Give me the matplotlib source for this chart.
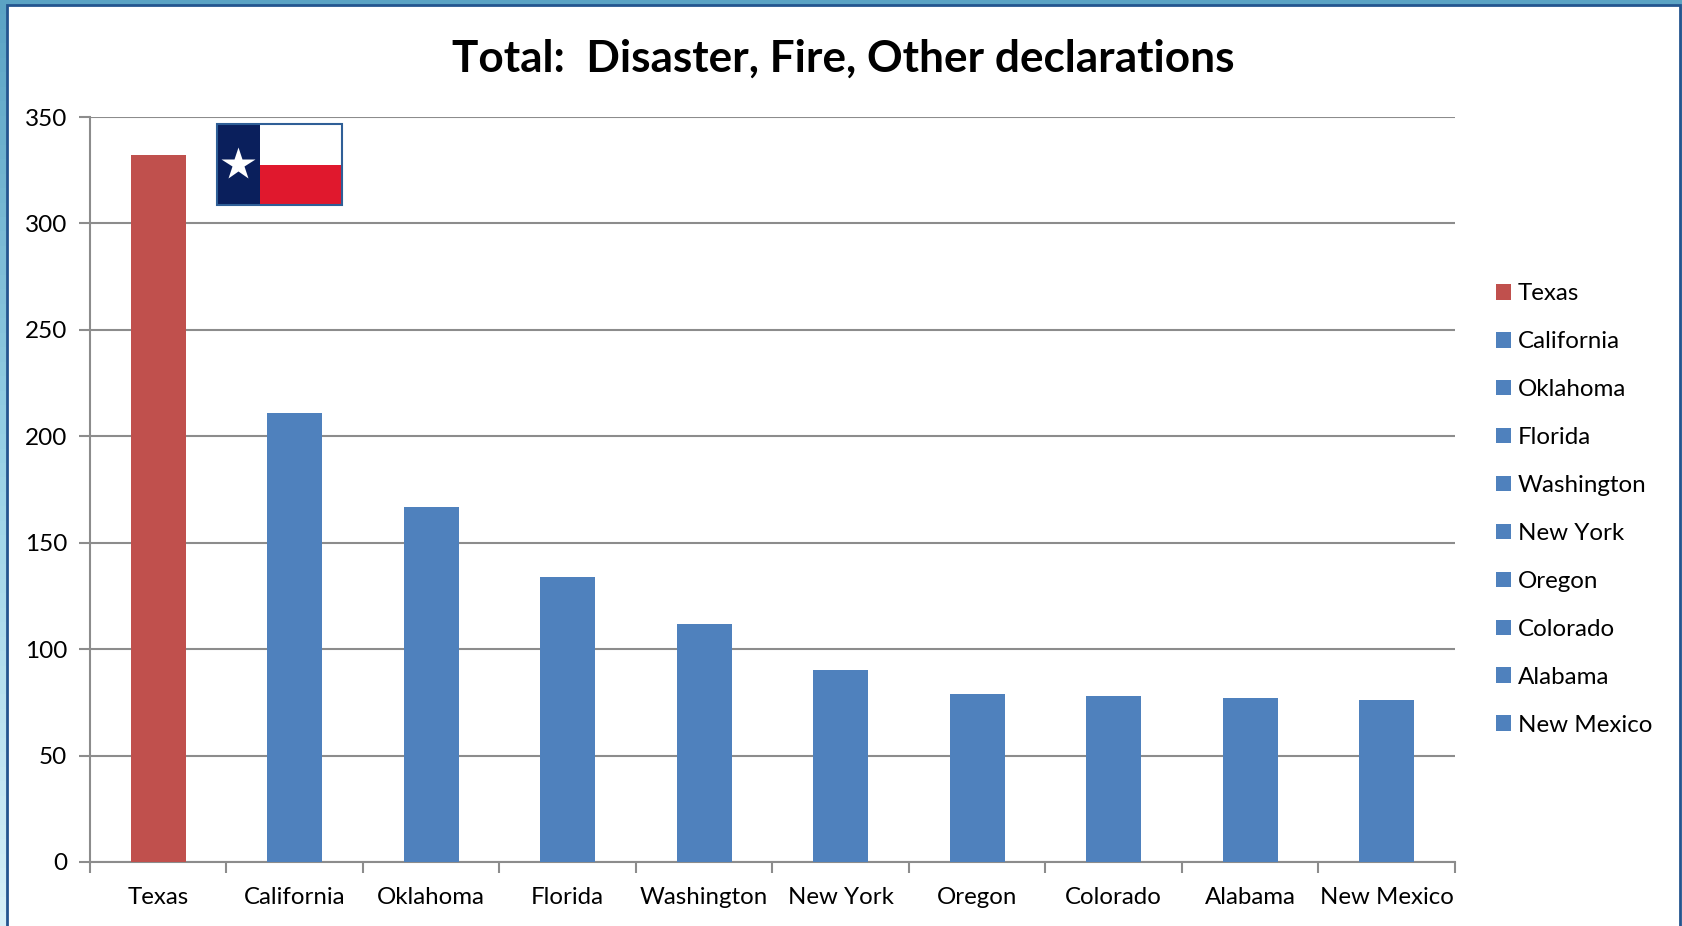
import matplotlib
matplotlib.use('Agg')
import matplotlib.pyplot as plt
from matplotlib.patches import Rectangle
import numpy as np

plt.rcParams['font.family'] = ['Lato', 'DejaVu Sans']

states = ['Texas', 'California', 'Oklahoma', 'Florida', 'Washington',
          'New York', 'Oregon', 'Colorado', 'Alabama', 'New Mexico']
totals = [332, 211, 167, 134, 112, 90, 79, 78, 77, 76]
yticks = [0, 50, 100, 150, 200, 250, 300, 350]

RED = '#C0504D'
BLUE = '#4F81BD'
GREY = '#8C8C8C'
W, H = 1683, 926

fig = plt.figure(figsize=(W / 100, H / 100), dpi=100)

# blue slide background behind the white panel
bg = fig.add_axes([0, 0, 1, 1], zorder=0)
grad = np.linspace(0, 1, 64).reshape(-1, 1)
bg.imshow(grad, cmap=matplotlib.colors.LinearSegmentedColormap.from_list(
    'slide', ['#5BA3C4', '#9AD2E6', '#D5EFF7']), aspect='auto', extent=[0, W, H, 0])
bg.add_patch(Rectangle((7.5, 5), 1673, 930, fc='white', ec='#24558F', lw=2))
bg.set_xlim(0, W)
bg.set_ylim(H, 0)
bg.axis('off')

ax = fig.add_axes([90 / W, 1 - 862 / H, (1455 - 90) / W, (862 - 117) / H], zorder=1)
ax.patch.set_alpha(0)
x = np.arange(len(states))
colors = [RED] + [BLUE] * (len(states) - 1)
bars = ax.bar(x, totals, width=0.4, color=colors, zorder=3)
for b, name in zip(bars, states):
    b.set_label(name)

ax.set_xlim(-0.5, len(states) - 0.5)
ax.set_ylim(0, 350)
ax.set_yticks(yticks)
ax.set_xticks(np.arange(len(states) + 1) - 0.5, minor=False)
ax.set_xticklabels([])
ax.set_xticks(x, states, minor=True)
ax.tick_params(axis='x', which='major', length=8, width=1.5, color=GREY)
ax.tick_params(axis='x', which='minor', length=0, labelsize=17.3, pad=17.8)
ax.tick_params(axis='y', length=8, width=1.5, color=GREY, labelsize=17.5, pad=8.5)
ax.grid(axis='y', color=GREY, lw=1.5, zorder=1)
ax.set_axisbelow(True)
for s in ['top', 'right']:
    ax.spines[s].set_visible(False)
for s in ['left', 'bottom']:
    ax.spines[s].set_color(GREY)
    ax.spines[s].set_linewidth(1.5)

fig.text(843 / W, 1 - 59 / H, 'Total:  Disaster, Fire, Other declarations',
         ha='center', va='center', fontsize=31.8, fontweight='bold', color='black')

ax.legend(loc='center left', bbox_to_anchor=(1496 / W, 1 - 509.5 / H),
          bbox_transform=fig.transFigure, frameon=False, fontsize=17.4,
          handlelength=0.62, handleheight=0.62, handletextpad=0.27,
          labelspacing=1.115, borderpad=0, borderaxespad=0)

# texas flag pasted over the chart
fl = fig.add_axes([0, 0, 1, 1], zorder=2)
fl.set_xlim(0, W)
fl.set_ylim(H, 0)
fl.axis('off')
fl.add_patch(Rectangle((217, 124), 125, 81, fc='white', ec='none'))
fl.add_patch(Rectangle((217, 124), 43, 81, fc='#0A1F5C', ec='none'))
fl.add_patch(Rectangle((260, 165), 82, 40, fc='#E0182D', ec='none'))
fl.add_patch(Rectangle((217, 124), 125, 81, fc='none', ec='#2F5F97', lw=1.5))
fl.plot([238.5], [164], marker='*', ms=25, color='white', mec='none')

fig.savefig('out.png', dpi=100)
